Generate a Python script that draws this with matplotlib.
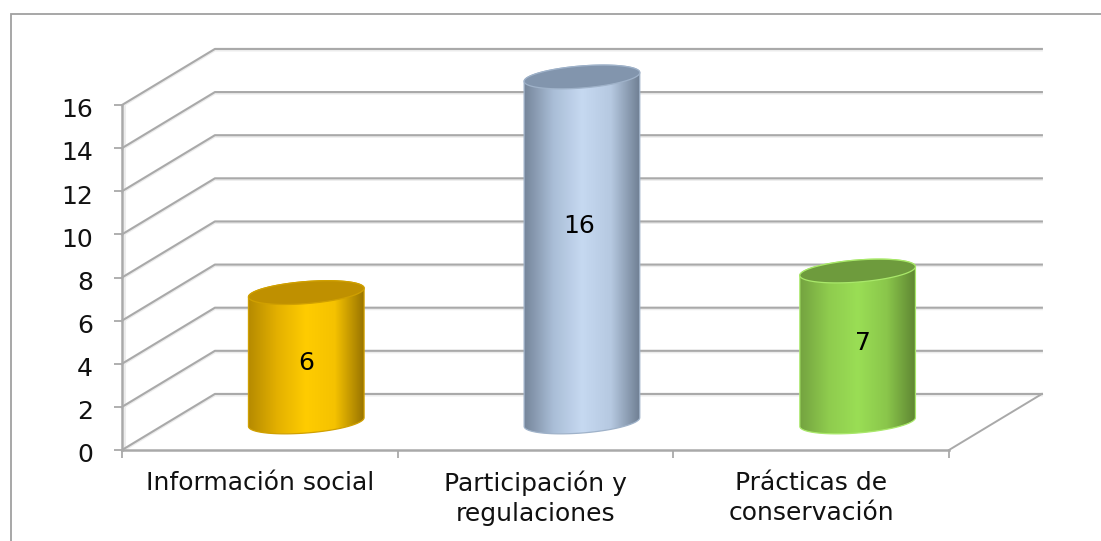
import numpy as np
import matplotlib
matplotlib.use('Agg')
import matplotlib.pyplot as plt
from matplotlib.colors import LinearSegmentedColormap
from matplotlib.patches import Polygon, Rectangle
from matplotlib.transforms import ScaledTranslation

categories = ['Información social', 'Participación y\nregulaciones', 'Prácticas de\nconservación']
values = [6, 16, 7]
y_ticks = [0, 2, 4, 6, 8, 10, 12, 14, 16]

W, H = 1101, 541
LEFT, RIGHT, TOP, BOTTOM = 122, 949, 105, 450   # front plane in pixels
DEPTH_X = 0.337
DEPTH_Y = 2.6
GRID = '#a9a9a9'
SHADOW = '#ececec'

body_colors = [
    ['#b58a00', '#e3b000', '#ffcc00', '#f5c200', '#997400'],
    ['#75859a', '#a9bdd6', '#c6d9f1', '#b6c9e1', '#6f7f93'],
    ['#74a340', '#8fcc4e', '#9ade55', '#8ac64b', '#5e8532'],
]
cap_colors = ['#bf9000', '#8295ad', '#6e9b3d']
rim_colors = ['#d0a000', '#9fb2c9', '#a9e86a']
label_x = [0.667, 1.66, 2.686]
label_y = [4.03, 10.39, 4.96]

fig = plt.figure(figsize=(W / 100, H / 100), dpi=100)
ax = fig.add_axes([LEFT / W, (H - BOTTOM) / H, (RIGHT - LEFT) / W, (BOTTOM - TOP) / H])
ax.patch.set_visible(False)

# outer frame of the chart area, runs off the right and bottom
fig.add_artist(Rectangle((11 / W, -0.1), 1.2, (H - 14) / H + 0.1, transform=fig.transFigure,
                         fill=False, ec='#a0a0a0', lw=1.3))

px_x = (RIGHT - LEFT) / 3
px_y = (BOTTOM - TOP) / 16


def ellipse(cx, cy, t):
    # tilted ellipse, sizes in pixels, returned in data units
    a, b, th = 58, 11, np.radians(4.5)
    x = a * np.cos(t) * np.cos(th) - b * np.sin(t) * np.sin(th)
    y = a * np.cos(t) * np.sin(th) + b * np.sin(t) * np.cos(th)
    return cx + x / px_x, cy + y / px_y


# walls
for v in y_ticks:
    xs = [0, DEPTH_X, 3 + DEPTH_X]
    ys = [v, v + DEPTH_Y, v + DEPTH_Y]
    ax.plot(xs, [y - 0.07 for y in ys], color=SHADOW, lw=1.5, clip_on=False, zorder=1)
    ax.plot(xs, ys, color=GRID, lw=1.5, clip_on=False, zorder=2)
ax.plot([3, 3 + DEPTH_X], [0, DEPTH_Y], color=GRID, lw=1.4, clip_on=False, zorder=2)
ax.plot([0.012, 0.012], [0, 16], color=SHADOW, lw=1.5, zorder=1)

# cylinders
for i, v in enumerate(values):
    cx = i + 0.5 + DEPTH_X / 2
    y0 = DEPTH_Y / 2
    y1 = y0 + v
    low = np.linspace(np.pi, 2 * np.pi, 60)
    high = np.linspace(0, np.pi, 60)
    bx, by = ellipse(cx, y0, low)
    tx, ty = ellipse(cx, y1, high)
    outline = np.column_stack([np.r_[bx, tx], np.r_[by, ty]])
    body = Polygon(outline, closed=True, fc='none', ec=rim_colors[i], lw=0.9, clip_on=False, zorder=4.5)
    ax.add_patch(body)
    cmap = LinearSegmentedColormap.from_list('c%d' % i, body_colors[i])
    grad = np.linspace(0, 1, 256).reshape(1, -1)
    im = ax.imshow(grad, cmap=cmap, aspect='auto', zorder=4, interpolation='bilinear',
                   extent=[bx.min(), bx.max(), by.min(), ty.max()])
    im.set_clip_path(body)
    im.set_clip_box(fig.bbox)
    full = np.linspace(0, 2 * np.pi, 120)
    ex, ey = ellipse(cx, y1, full)
    ax.add_patch(Polygon(np.column_stack([ex, ey]), closed=True, fc=cap_colors[i],
                         ec=rim_colors[i], lw=0.9, clip_on=False, zorder=5))
    ax.text(label_x[i], label_y[i], str(v), ha='center', va='center', fontsize=18,
            color='black', zorder=6)

ax.set_xlim(0, 3)
ax.set_ylim(0, 16)
for s in ['top', 'right']:
    ax.spines[s].set_visible(False)
for s in ['left', 'bottom']:
    ax.spines[s].set_color(GRID)
    ax.spines[s].set_linewidth(1.8)
ax.set_yticks(y_ticks)
ax.set_xticks([0, 1, 2, 3])
ax.set_xticklabels([])
ax.set_xticks([0.5, 1.5, 2.5], minor=True)
ax.set_xticklabels(categories, minor=True, fontsize=18, linespacing=1.3, color='#111111')
ax.tick_params(axis='x', which='major', length=6, width=1.3, color=GRID)
ax.tick_params(axis='x', which='minor', length=0, pad=15)
ax.tick_params(axis='y', length=6, width=1.3, color=GRID, labelsize=18, pad=15, labelcolor='#111111')
shift = ScaledTranslation(0, -2 / 72, fig.dpi_scale_trans)
for lab in ax.get_yticklabels():
    lab.set_transform(lab.get_transform() + shift)

fig.savefig('out.png', dpi=100)
